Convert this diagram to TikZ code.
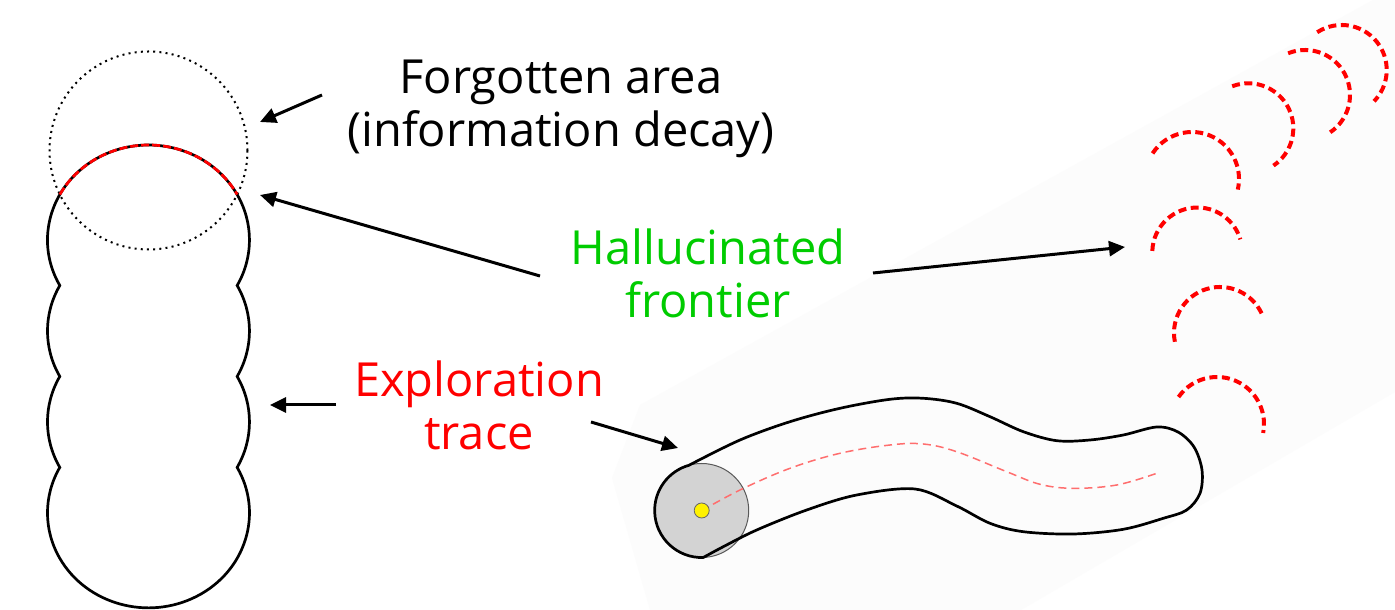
\documentclass[tikz,border=0pt]{standalone}
\usepackage{fontspec}
\setmainfont{Open Sans}
\usetikzlibrary{arrows.meta}
\definecolor{hgreen}{RGB}{0,204,0}
\definecolor{tred}{RGB}{255,0,0}
\definecolor{bgfaint}{RGB}{252,252,252}
\definecolor{trail}{RGB}{255,110,110}
\definecolor{diskgray}{RGB}{211,211,211}
\begin{document}
\begin{tikzpicture}[x=1pt,y=1pt,
  lbl/.style={font=\fontsize{47}{53}\selectfont, align=center, inner sep=0pt},
  arr/.style={line width=3pt, -{Triangle[length=16pt,width=15pt]}},
  outline/.style={line width=2.7pt, black},
  frontarc/.style={line width=4pt, tred, dash pattern=on 8pt off 4.5pt},
  trailline/.style={line width=1.5pt, trail, dash pattern=on 8pt off 5pt},
]
\useasboundingbox (0,0) rectangle (1395,610);
\fill[white] (0,0) rectangle (1395,610);
% faint background of the right panel
\fill[bgfaint] (1373,610) -- (1395,610) -- (1395,218) -- (1021,0) -- (650,0) -- (612,132) -- (640,205) -- cycle;

% ---------- left panel ----------
% forgotten (dotted) circle
\draw[line width=2pt, dash pattern=on 2pt off 4.2pt] (148.5,459.5) circle[radius=99];
% exploration trace: chain of ellipses
\draw[outline] (59.8,324.5)
  arc[start angle=208.6, end angle=-28.6, x radius=101, y radius=95]
  arc[start angle=28.6, end angle=-28.6, x radius=101, y radius=95]
  arc[start angle=28.6, end angle=-28.6, x radius=101, y radius=95]
  arc[start angle=28.6, end angle=-208.6, x radius=101, y radius=95]
  arc[start angle=208.6, end angle=151.4, x radius=101, y radius=95]
  arc[start angle=208.6, end angle=151.4, x radius=101, y radius=95]
  -- cycle;
% hallucinated frontier on the top circle
\draw[line width=2.7pt, tred, dash pattern=on 8pt off 3pt] (148.5,370) ++(151.4:101 and 95)
  arc[start angle=151.4, end angle=28.6, x radius=101, y radius=95];

% ---------- right panel ----------
\fill[diskgray, draw=black!65, line width=1pt] (701.7,99.5) circle[radius=47];
\draw[outline, line join=round]
  plot[smooth, tension=0.55] coordinates {
    (689.5,145) (740,170) (790,188.3) (840,201.7) (890,210.7) (923.3,211.7)
    (956.7,206.7) (990,193.3) (1023.3,178.3) (1056.7,169.3) (1090,170)
    (1123.3,175) (1156.7,183) (1178,178) (1194,163) (1202,140) (1200,116.7)
    (1186.7,100) (1163.3,91.7) (1123.3,80.7) (1073.3,76) (1023.3,78.3)
    (990,86.7) (956.7,104) (915,121) (856.7,115) (806.7,100)
    (756.7,80) (723.3,63.3) (703.3,52.5)}
  arc[start angle=-88, end angle=-255, radius=47];
\draw[trailline] plot[smooth, tension=0.6] coordinates {
  (701.7,99.3) (740,120) (790,141.7) (840,156.7) (890,165) (923.3,166)
  (956.7,158.3) (1006.7,138.3) (1040,125.7) (1073.3,121.7) (1116.7,125) (1156.7,136.7)};
\fill[yellow, draw=black!60, line width=0.8pt] (701.7,99.5) circle[radius=7.5];

% hallucinated frontier arcs
\draw[frontarc] (1341.7,540) ++(123:45) arc[start angle=123, end angle=-44, radius=45];
\draw[frontarc] (1305,515) ++(112:45) arc[start angle=112, end angle=-56, radius=45];
\draw[frontarc] (1248.3,481.7) ++(111:45) arc[start angle=111, end angle=-56, radius=45];
\draw[frontarc] (1192,431) ++(147:47) arc[start angle=147, end angle=-13, radius=47];
\draw[frontarc] (1197.3,357.5) ++(178:45) arc[start angle=178, end angle=17, radius=45];
\draw[frontarc] (1220,277) ++(191:46) arc[start angle=191, end angle=20, radius=46];
\draw[frontarc] (1217,186) ++(145:47) arc[start angle=145, end angle=-11, radius=47];

% ---------- labels ----------
\node[lbl] (forg) at (561,501) {Forgotten area\\(information decay)};
\node[lbl, text=hgreen] (hal) at (708,336.5) {Hallucinated\\frontier};
\node[lbl, text=tred] (expl) at (479,205) {Exploration\\trace};

% ---------- arrows ----------
\coordinate (forgS) at (322,515);
\coordinate (forgT) at (260,488);
\coordinate (halLS) at (540,334);
\coordinate (halLT) at (260,415);
\coordinate (halRS) at (873,337);
\coordinate (halRT) at (1125,363);
\coordinate (expLS) at (336,205);
\coordinate (expLT) at (270,205);
\coordinate (expRS) at (591,188);
\coordinate (expRT) at (678,162);
\draw[arr] (forgS) -- (forgT);
\draw[arr] (halLS) -- (halLT);
\draw[arr] (halRS) -- (halRT);
\draw[arr] (expLS) -- (expLT);
\draw[arr] (expRS) -- (expRT);
\end{tikzpicture}
\end{document}
